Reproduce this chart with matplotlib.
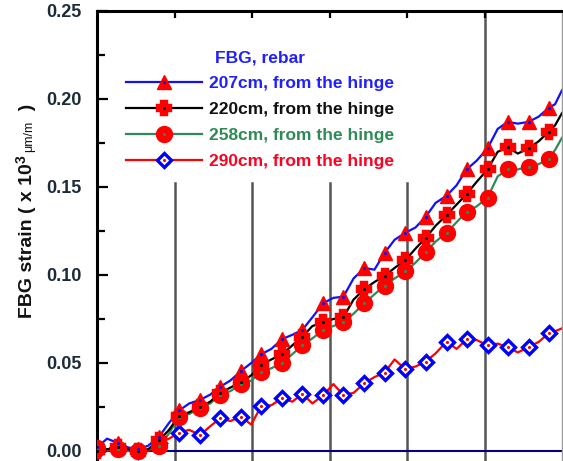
import matplotlib
matplotlib.use("Agg")
import matplotlib.pyplot as plt
from matplotlib.lines import Line2D
from matplotlib.legend_handler import HandlerTuple

plt.rcParams.update({
    "font.family": ["Liberation Sans", "DejaVu Sans"],
    "font.weight": "bold",
})

# x positions (grid units), half-marker resolution plus the two end points
X = [0.00, 0.13, 0.27, 0.40, 0.53, 0.66, 0.80, 0.93, 1.06, 1.19, 1.33, 1.46,
     1.59, 1.72, 1.86, 1.99, 2.12, 2.25, 2.39, 2.52, 2.65, 2.78, 2.92, 3.05,
     3.18, 3.31, 3.45, 3.58, 3.71, 3.84, 3.98, 4.11, 4.24, 4.37, 4.51, 4.64,
     4.77, 4.90, 5.04, 5.17, 5.30, 5.43, 5.57, 5.70, 5.83, 5.91, 6.00]

labels = ["207cm, from the hinge", "220cm, from the hinge",
          "258cm, from the hinge", "290cm, from the hinge"]

s207 = [0.002, 0.007, 0.0045, 0.002, 0.001, 0.003, 0.008, 0.016, 0.023, 0.027,
        0.029, 0.032, 0.0365, 0.040, 0.0455, 0.050, 0.055, 0.058, 0.0636, 0.066,
        0.0688, 0.076, 0.084, 0.087, 0.0877, 0.098, 0.104, 0.103, 0.1125, 0.120,
        0.124, 0.127, 0.133, 0.141, 0.145, 0.151, 0.160, 0.165, 0.172, 0.183,
        0.187, 0.186, 0.187, 0.190, 0.195, 0.197, 0.205]
s220 = [0.000, 0.001, 0.002, 0.001, 0.000, 0.001, 0.006, 0.012, 0.020, 0.022,
        0.025, 0.028, 0.033, 0.036, 0.039, 0.043, 0.049, 0.052, 0.055, 0.060,
        0.065, 0.071, 0.073, 0.075, 0.076, 0.086, 0.092, 0.096, 0.0995, 0.104,
        0.1085, 0.115, 0.121, 0.128, 0.134, 0.140, 0.146, 0.153, 0.160, 0.170,
        0.1725, 0.169, 0.172, 0.176, 0.1815, 0.185, 0.192]
s258 = [0.0015, 0.001, 0.001, 0.000, 0.000, 0.001, 0.003, 0.010, 0.0195, 0.021,
        0.0245, 0.027, 0.032, 0.034, 0.038, 0.040, 0.045, 0.047, 0.050, 0.055,
        0.060, 0.064, 0.0688, 0.071, 0.073, 0.078, 0.084, 0.089, 0.094, 0.098,
        0.102, 0.107, 0.113, 0.119, 0.124, 0.130, 0.136, 0.139, 0.144, 0.156,
        0.160, 0.160, 0.1615, 0.163, 0.166, 0.171, 0.178]
s290 = [0.000, 0.000, 0.002, 0.001, 0.000, 0.000, 0.0045, 0.007, 0.0104, 0.012,
        0.009, 0.014, 0.0186, 0.017, 0.0195, 0.015, 0.0256, 0.026, 0.030, 0.028,
        0.0324, 0.027, 0.0318, 0.038, 0.0318, 0.033, 0.0385, 0.042, 0.0445, 0.052,
        0.0464, 0.048, 0.0507, 0.0555, 0.0621, 0.058, 0.0635, 0.063, 0.060, 0.061,
        0.059, 0.056, 0.059, 0.062, 0.0669, 0.068, 0.0697]

series = [s207, s220, s258, s290]
line_colors = ["#1010ff", "#000000", "#2e8b57", "#ff0000"]
text_colors = ["#2020ff", "#111111", "#2e8b57", "#ff0022"]
markers = [
    dict(marker="^", ms=10.5, mfc="red", mec="red"),
    dict(marker="P", ms=9, mfc="white", mec="red", mew=3.2),
    dict(marker="o", ms=11.5, mfc="red", mec="red"),
    dict(marker="D", ms=7, mfc="white", mec="#0000ff", mew=2.4),
]
dot_colors = ["#0000ff", "#000000", "#2e8b57", "#ff0000"]

W, H = 563, 461
fig = plt.figure(figsize=(W / 100, H / 100), dpi=100)
ax = fig.add_axes([97 / W, 0, 1 - 97 / W - 1 / W, 1 - 11 / H])
ax.set_xlim(0, 6)
ax.set_ylim(-0.0057, 0.25)

# frame lines
for xv in [1, 2, 3, 4]:
    ax.axvline(xv, ymax=(0.152 + 0.0057) / 0.2557, color="#555555", lw=1.8, zorder=1)
ax.axvline(5, color="#555555", lw=1.8, zorder=1)
ax.axhline(0, color="#000080", lw=1.5, zorder=1)

order = [3, 2, 1, 0]
for i in order:
    ax.plot(X, series[i], color=line_colors[i], lw=1.6, zorder=2)
for i in order:
    ys = series[i]
    ax.plot(X[:45:2], ys[:45:2], ls="none", zorder=3, **markers[i])
    ax.plot(X[:45:2], ys[:45:2], ls="none", marker=".", ms=2.5,
            color=dot_colors[i], zorder=4)

handles = []
for i in range(4):
    h1 = Line2D([], [], color=line_colors[i], lw=1.6, **markers[i])
    h2 = Line2D([], [], ls="none", marker=".", ms=2.5, color=dot_colors[i])
    handles.append((h1, h2))

leg = ax.legend(handles, labels, title="FBG, rebar", loc="upper left",
                bbox_to_anchor=(126 / W, 1 - 50 / H), bbox_transform=fig.transFigure,
                frameon=False, fontsize=12.5, title_fontsize=12.5, numpoints=1,
                handlelength=4.4, handletextpad=0.4, labelspacing=0.62,
                borderpad=0, borderaxespad=0,
                handler_map={tuple: HandlerTuple(ndivide=1)})
leg.get_title().set_color("#2020ff")
leg.get_title().set_fontweight("bold")
for t, c in zip(leg.get_texts(), text_colors):
    t.set_color(c)

ax.set_yticks([0.0, 0.05, 0.10, 0.15, 0.20, 0.25])
ax.set_yticklabels(["0.00", "0.05", "0.10", "0.15", "0.20", "0.25"])
ax.set_yticks([0.025, 0.075, 0.125, 0.175, 0.225], minor=True)
ax.set_xticks([1, 2, 3, 4, 5])
ax.tick_params(axis="y", which="major", direction="in", length=8, width=1.6,
               labelsize=13, pad=11, labelcolor="#1c2b3a")
ax.tick_params(axis="y", which="minor", direction="in", length=6, width=1.6)
ax.tick_params(axis="x", direction="in", length=5, width=1.6, bottom=False,
               top=True, labelbottom=False, labeltop=False)
for lab in ax.get_yticklabels():
    lab.set_fontweight("bold")

ax.spines["left"].set_linewidth(2.2)
ax.spines["top"].set_linewidth(2.2)
ax.spines["bottom"].set_visible(False)
ax.spines["right"].set_color("#999999")
ax.spines["right"].set_linewidth(1.0)

# y label built from pieces (bold text, superscript, small unit)
renderer = fig.canvas.get_renderer()
x0 = 32 / W
y_px = H - 318
pieces = [("FBG strain ( x 10", 14, "bold", 0),
          ("3", 10, "bold", -6),
          (" ", 9, "normal", 0),
          ("\u03bcm/m", 9, "normal", 0),
          ("  )", 14, "bold", 0)]
for txt, size, weight, dx in pieces:
    t = fig.text(x0 + dx / W, y_px / H, txt, rotation=90, rotation_mode="anchor",
                 ha="left", va="baseline", fontsize=size, fontweight=weight,
                 color="#111111")
    bb = t.get_window_extent(renderer)
    y_px += bb.height

fig.savefig("out.png", dpi=100)
